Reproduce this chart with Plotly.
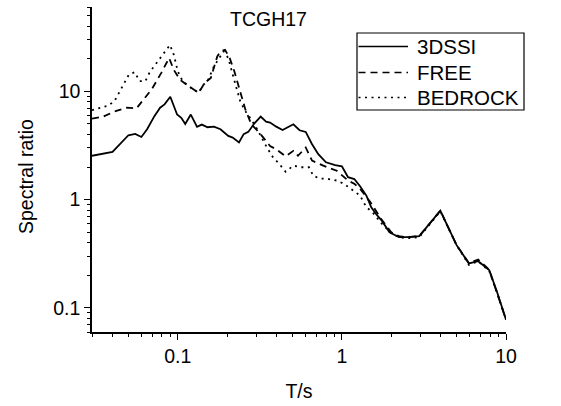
import plotly.graph_objects as go

# ---- data ----
T_3dssi = [0.030, 0.040, 0.050, 0.055, 0.060, 0.065, 0.072, 0.078, 0.083, 0.090,
           0.099, 0.105, 0.111, 0.120, 0.131, 0.140, 0.152, 0.166, 0.182, 0.203,
           0.216, 0.236, 0.252, 0.269, 0.293, 0.320, 0.345, 0.365, 0.398, 0.435,
           0.506, 0.552, 0.602, 0.658, 0.718, 0.800, 0.910, 1.00, 1.09, 1.19,
           1.29, 1.41, 1.51, 1.61, 1.75, 1.95, 2.23, 2.49, 2.96, 3.98,
           5.00, 5.94, 6.77, 7.90, 8.80, 9.80, 10.0]
v_3dssi = [2.54, 2.76, 3.93, 4.04, 3.79, 4.46, 5.90, 7.06, 7.57, 8.90,
           6.10, 5.70, 5.00, 6.10, 4.70, 4.93, 4.66, 4.72, 4.46, 3.87,
           3.74, 3.37, 4.02, 4.22, 5.07, 5.84, 5.25, 5.14, 4.72, 4.40,
           4.96, 4.37, 4.22, 3.25, 2.63, 2.21, 2.08, 2.03, 1.61, 1.55,
           1.33, 1.09, 0.85, 0.74, 0.64, 0.50, 0.45, 0.45, 0.46, 0.79,
           0.38, 0.258, 0.27, 0.224, 0.142, 0.084, 0.078]

T_free = [0.030, 0.0347, 0.0422, 0.049, 0.056, 0.061, 0.0696, 0.0793, 0.0885, 0.0945,
          0.103, 0.117, 0.134, 0.146, 0.159, 0.174, 0.182, 0.194, 0.207, 0.221,
          0.236, 0.258, 0.280, 0.320, 0.365, 0.400, 0.454, 0.506, 0.540, 0.602,
          0.658, 0.770, 0.930, 1.09, 1.19, 1.29, 1.49, 1.75, 2.00, 2.23,
          2.50, 2.96, 3.98, 5.00, 5.94, 6.77, 7.90, 8.80, 9.80, 10.0]
v_free = [5.6, 5.8, 6.6, 7.06, 6.95, 8.1, 10.5, 14.8, 20.3, 15.8,
          12.8, 11.1, 9.7, 12.0, 13.3, 21.0, 23.4, 24.2, 20.3, 15.3,
          10.8, 6.8, 5.0, 4.0, 3.13, 2.9, 2.51, 2.82, 2.54, 3.03,
          2.29, 2.06, 1.85, 1.50, 1.40, 1.26, 0.95, 0.65, 0.50, 0.46,
          0.45, 0.46, 0.79, 0.38, 0.26, 0.28, 0.225, 0.14, 0.085, 0.078]

T_bed = [0.030, 0.033, 0.0379, 0.0413, 0.0442, 0.0473, 0.0504, 0.0547, 0.0584, 0.0634,
         0.0674, 0.0738, 0.083, 0.0896, 0.0945, 0.100, 0.107, 0.120, 0.134, 0.143,
         0.152, 0.166, 0.190, 0.203, 0.216, 0.229, 0.240, 0.257, 0.280, 0.305,
         0.349, 0.381, 0.416, 0.454, 0.506, 0.561, 0.630, 0.670, 0.730, 0.830,
         0.930, 1.03, 1.17, 1.29, 1.41, 1.53, 1.75, 2.00, 2.23, 2.50,
         2.96, 3.98, 5.00, 5.94, 6.77, 7.90, 8.80, 9.80, 10.0]
v_bed = [6.7, 6.95, 7.4, 8.2, 9.8, 12.0, 14.3, 15.0, 12.4, 12.4,
         15.0, 17.9, 22.5, 26.8, 21.8, 15.3, 12.4, 10.8, 9.7, 11.5,
         12.4, 17.0, 23.4, 20.3, 14.3, 10.4, 8.1, 6.6, 5.5, 4.46,
         3.03, 2.45, 2.13, 1.81, 2.06, 1.99, 1.99, 1.66, 1.57, 1.55,
         1.50, 1.40, 1.21, 1.09, 0.85, 0.77, 0.60, 0.49, 0.45, 0.44,
         0.45, 0.78, 0.38, 0.25, 0.27, 0.22, 0.14, 0.085, 0.078]

series_names = ["3DSSI", "FREE", "BEDROCK"]
tick_vals = [0.1, 1, 10]
tick_text = ["0.1", "1", "10"]
title_text = "TCGH17"
x_title = "T/s"
y_title = "Spectral ratio"

FONT = "Liberation Sans, Arial, sans-serif"
FS = 19.5
dashes = ["solid", "7px,5px", "2px,4.5px"]

fig = go.Figure()
for name, xs, ys, d in zip(series_names, [T_3dssi, T_free, T_bed],
                           [v_3dssi, v_free, v_bed], dashes):
    fig.add_trace(go.Scatter(x=xs, y=ys, mode="lines", name=name,
                             line=dict(color="black", width=1.8, dash=d),
                             showlegend=False))

axis_common = dict(type="log", showgrid=False, zeroline=False, showline=True,
                   linecolor="black", linewidth=1.5, ticks="outside", ticklen=6,
                   tickwidth=1.3, tickcolor="black", tickmode="array",
                   tickvals=tick_vals, ticktext=tick_text,
                   tickfont=dict(family=FONT, size=FS, color="black"),
                   minor=dict(ticks="outside", ticklen=3.5, tickwidth=1.1,
                              tickcolor="black", dtick="D1", showgrid=False))

fig.update_xaxes(range=[-1.5229, 1.0], title=dict(text=x_title, standoff=18,
                 font=dict(family=FONT, size=FS, color="black")), **axis_common)
fig.update_yaxes(range=[-1.2218, 1.7782], **axis_common)

# legend drawn as a framed box (paper coordinates)
L, R, Tp, B = 92, 506, 7, 332
W, H = R - L, B - Tp
px = lambda x: (x - L) / W
py = lambda y: (B - y) / H
shapes = [dict(type="rect", xref="paper", yref="paper", x0=px(357), x1=px(524),
               y0=py(110), y1=py(33), line=dict(color="black", width=1.2))]
annotations = []
rows = [46.5, 72.5, 97.5]
for name, d, ry in zip(series_names, dashes, rows):
    shapes.append(dict(type="line", xref="paper", yref="paper", x0=px(358.5), x1=px(408),
                       y0=py(ry), y1=py(ry), line=dict(color="black", width=1.6, dash=d)))
    annotations.append(dict(text=name, xref="paper", yref="paper", x=px(415), y=py(ry),
                            xanchor="left", yanchor="middle", showarrow=False,
                            font=dict(family=FONT, size=20.5, color="black")))
annotations.append(dict(text=title_text, xref="paper", yref="paper", x=px(268), y=py(19),
                        xanchor="center", yanchor="middle", showarrow=False,
                        font=dict(family=FONT, size=FS, color="black")))
annotations.append(dict(text=y_title, xref="paper", yref="paper", x=px(26), y=py(177),
                        xanchor="center", yanchor="middle", textangle=-90, showarrow=False,
                        font=dict(family=FONT, size=FS, color="black")))

fig.update_layout(width=561, height=406, margin=dict(l=L, r=561 - R, t=Tp, b=406 - B),
                  paper_bgcolor="white", plot_bgcolor="white",
                  shapes=shapes, annotations=annotations, showlegend=False)

fig.write_html("out.html")
